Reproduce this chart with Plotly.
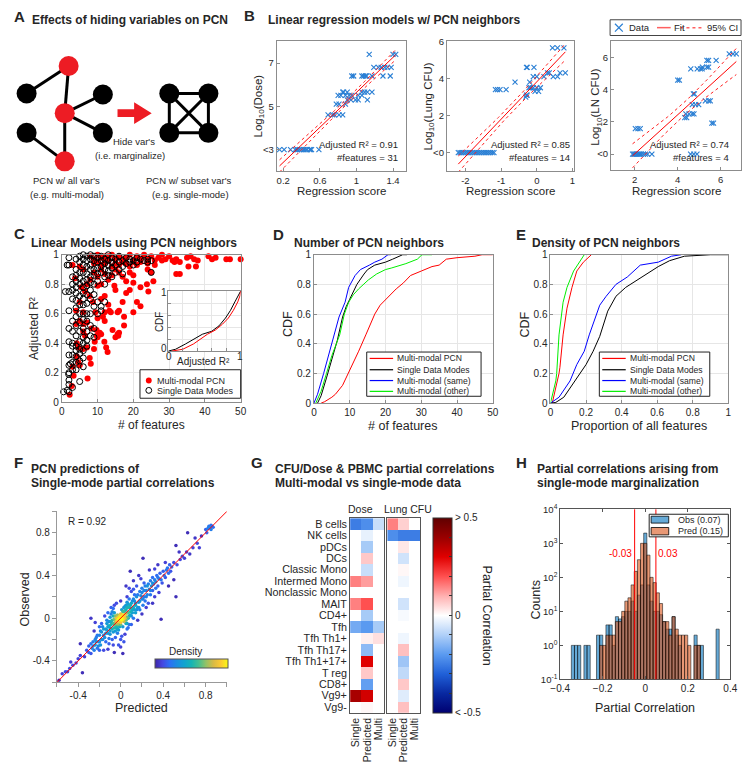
import numpy as np
import plotly.graph_objects as go

W, H = 750, 766
def X(px): return px / W
def Y(py): return 1 - py / H

FONT = "Liberation Sans, Arial, Helvetica, sans-serif"
TXT = "#262626"
AXC = "#8c8c8c"
GRID = "#e6e6e6"

# ================= DATA =================
# Panel A schematic (node positions in panel pixels)
a_node_x = [60, 17, 56, 95, 95, 17, 56, 163, 203, 163, 203]
a_node_y = [60, 88, 108, 89, 128, 128, 157, 88, 88, 128, 128]
a_node_red = [1, 0, 1, 0, 0, 0, 1, 0, 0, 0, 0]
a_edges = [(0, 1), (0, 2), (2, 3), (2, 4), (2, 6), (5, 6),
           (7, 8), (9, 10), (7, 9), (8, 10), (7, 10), (8, 9)]

# Panel B: regression score vs log10 value (grouped by y level)
b1_levels = [3, 4.6, 5.1, 5.3, 5.5, 5.65, 6.4, 6.8, 7.4]
b1_scores = [
    [0.16, 0.21, 0.28, 0.33, 0.35, 0.36, 0.38, 0.40, 0.42, 0.43, 0.45, 0.46, 0.49, 0.50, 0.51, 0.59],
    [0.69, 0.74, 0.76, 0.81, 0.85],
    [0.78, 0.81, 0.88],
    [0.90, 0.94, 0.99, 1.02, 1.12],
    [0.80, 0.83, 0.88, 0.92, 0.95, 1.02, 1.06],
    [0.85, 0.86, 0.90, 1.06, 1.09, 1.12, 1.17],
    [0.95, 0.97, 1.06, 1.08, 1.10, 1.11, 1.17, 1.29, 1.37],
    [1.19, 1.24, 1.27, 1.31, 1.34, 1.38],
    [1.14, 1.40, 1.43]]
b2_levels = [0, 3.0, 3.1, 3.3, 3.4, 3.5, 3.8, 4.1, 4.3, 4.6, 5.65]
b2_scores = [
    [-2.2, -2.15, -2.1, -2.05, -2.0, -1.95, -1.9, -1.85, -1.8, -1.75, -1.7, -1.65, -1.6,
     -1.55, -1.5, -1.45, -1.4, -1.35, -1.3, -1.25, -1.2],
    [-0.31],
    [-0.29, -0.27],
    [-0.05, 0.05],
    [-1.16, -1.10, -1.03, -0.86],
    [-0.22, -0.17, -0.10, 0.0, 0.10],
    [-0.61, -0.20],
    [-0.10, 0.0, 0.20, 0.46, 0.58],
    [0.30, 0.35, 0.65, 0.80],
    [-0.29, -0.27, -0.08],
    [0.44, 0.58, 0.76]]
b3_levels = [0, 1.58, 1.92, 2.26, 2.5, 3.07, 3.3, 3.74, 4.6, 5.3, 5.4, 5.82, 6.22]
b3_scores = [
    [1.9, 1.95, 2.0, 2.05, 2.1, 2.15, 2.2, 2.25, 2.3, 2.4, 2.5, 2.6, 2.8, 4.6, 4.75, 4.9],
    [2.03, 2.15, 2.26],
    [5.59, 5.67],
    [4.33, 4.42],
    [4.38, 4.53, 4.68, 4.76],
    [4.68, 4.83, 4.98],
    [5.29, 5.44, 5.52],
    [4.73, 4.78],
    [4.0, 4.08],
    [4.61, 4.91, 5.06, 5.14],
    [5.15, 5.36, 5.44],
    [5.36, 5.44, 5.79],
    [6.4, 6.58, 6.73]]
b_stats = [("Adjusted R² = 0.91", "#features = 31"),
           ("Adjusted R² = 0.85", "#features = 14"),
           ("Adjusted R² = 0.74", "#features = 4")]
b_ylabels = ["Log<sub>10</sub>(Dose)", "Log<sub>10</sub>(Lung CFU)", "Log<sub>10</sub>(LN CFU)"]

# Panel C: (# features, adjusted R2)
c_multi = [
    (3, 0.93), (8, 0.99), (9, 0.97), (10, 1.0), (11, 0.98), (12, 0.96), (13, 0.99), (14, 1.0), (15, 0.97),
    (16, 0.99), (17, 0.95), (18, 0.98), (19, 1.0), (20, 0.96), (21, 0.99), (22, 0.97), (23, 1.0), (24, 0.97),
    (25, 0.99), (26, 0.96), (27, 0.98), (28, 1.0), (29, 0.97), (30, 0.99), (31, 0.96), (32, 0.97), (33, 0.95),
    (35, 0.98), (36, 0.99), (37, 0.97), (38, 0.96), (41, 0.99), (42, 0.97), (43, 0.98), (46, 0.97), (47, 0.97),
    (50, 0.97), (37.5, 0.92), (31.5, 0.95), (9, 0.94), (10, 0.95), (11, 0.93), (12, 0.94), (13, 0.96),
    (14, 0.92), (15, 0.94), (16, 0.93), (17, 0.97), (18, 0.94), (19, 0.92), (20, 0.95), (12, 0.99), (13, 0.97),
    (21, 0.93), (22, 0.95), (24, 0.94), (26, 0.93), (28, 0.96),
    (24, 0.90), (25, 0.88), (32, 0.87), (33, 0.87), (35.4, 0.92), (25.6, 0.82), (23.8, 0.80), (22, 0.78),
    (20, 0.81), (24.2, 0.75), (22, 0.65), (21, 0.68), (20, 0.61), (17, 0.68), (17.4, 0.58), (15.6, 0.61),
    (15, 0.76), (14.7, 0.79), (17.4, 0.52), (15.6, 0.46), (15, 0.44), (14.2, 0.49), (12.8, 0.34), (11.9, 0.41),
    (12.4, 0.37), (13.7, 0.61), (13.3, 0.62), (12, 0.61), (12, 0.55), (11.5, 0.58), (10, 0.57), (10.6, 0.47),
    (9.7, 0.49), (9.8, 0.45), (8.3, 0.5), (7.8, 0.3), (8.1, 0.26), (9.2, 0.41), (6.5, 0.45), (6, 0.48),
    (7, 0.37), (4.2, 0.4), (4.6, 0.37), (4.2, 0.31), (4.6, 0.27), (7.2, 0.16), (3.3, 0.18), (2.8, 0.11),
    (2.2, 0.05), (3.7, 0.84), (5.5, 0.78), (6.5, 0.75), (5, 0.68), (6, 0.61), (7.8, 0.72), (8.7, 0.68),
    (9.4, 0.61), (10, 0.79), (11, 0.8), (9, 0.88), (10, 0.85), (11, 0.9), (12, 0.87), (13, 0.83), (14, 0.86),
    (15, 0.9), (16, 0.88), (17, 0.85), (18, 0.82), (19, 0.88), (20, 0.86), (8, 0.83), (7, 0.8), (6, 0.9),
    (5, 0.92), (4, 0.62), (4, 0.53), (5, 0.55), (6, 0.53), (7, 0.54), (6, 0.36), (5, 0.25), (3, 0.24),
    (11, 0.7), (12, 0.72), (13, 0.66), (9, 0.36), (10, 0.44), (11, 0.46), (16, 0.62), (18, 0.74), (19, 0.76),
    (15.8, 0.45), (16, 0.47)]
c_single = [
    (1, 0.75), (0.5, 0.07), (1.5, 0.08), (1.5, 0.93),
    (2, 0.75), (2, 0.62), (2, 0.5), (2, 0.41), (2, 0.32), (2, 0.25), (2, 0.2), (2, 0.15), (2, 0.12), (2, 0.07),
    (2, 0.98), (2, 0.93), (2.4, 0.26), (1.9, 0.19),
    (3, 0.8), (3, 0.76), (3, 0.7), (3, 0.55), (3, 0.48), (3, 0.4), (3, 0.38), (3, 0.32), (3, 0.27), (3, 0.22),
    (3, 0.1), (3, 0.85),
    (4, 0.97), (4, 0.9), (4, 0.86), (4, 0.82), (4, 0.78), (4, 0.74), (4, 0.69), (4, 0.64), (4, 0.58), (4, 0.52),
    (4, 0.45), (4, 0.38), (4, 0.35), (4, 0.31), (4, 0.27), (4, 0.22),
    (5, 0.99), (5, 0.95), (5, 0.88), (5, 0.84), (5, 0.8), (5, 0.72), (5, 0.66), (5, 0.6), (5, 0.54), (5, 0.48),
    (5, 0.41), (5, 0.36), (5, 0.33), (5, 0.28), (5, 0.14),
    (6, 1.0), (6, 0.97), (6, 0.93), (6, 0.88), (6, 0.82), (6, 0.78), (6, 0.74), (6, 0.7), (6, 0.66), (6, 0.6),
    (6, 0.56), (6, 0.5), (6, 0.44), (6, 0.4), (6, 0.35), (6, 0.3), (6, 0.24),
    (7, 0.99), (7, 0.96), (7, 0.92), (7, 0.87), (7, 0.83), (7, 0.79), (7, 0.73), (7, 0.67), (7, 0.6), (7, 0.55),
    (7, 0.48), (7, 0.42), (7, 0.38),
    (8, 1.0), (8, 0.97), (8, 0.93), (8, 0.9), (8, 0.85), (8, 0.81), (8, 0.76), (8, 0.7), (8, 0.6), (8, 0.52), (8, 0.45),
    (9, 0.99), (9, 0.96), (9, 0.9), (9, 0.86), (9, 0.8), (9, 0.73), (9, 0.65), (9, 0.5), (9, 0.44),
    (10, 0.98), (10, 0.95), (10, 0.91), (10, 0.87), (10, 0.82), (10, 0.68), (10, 0.6),
    (11, 0.99), (11, 0.96), (11, 0.92), (11, 0.88), (11, 0.65), (11, 0.62),
    (12, 0.97), (12, 0.94), (12, 0.9), (12, 0.85), (12, 0.8), (12, 0.68),
    (13, 1.0), (13, 0.96), (13, 0.93), (13, 0.89), (13, 0.86),
    (14, 0.98), (14, 0.95), (14, 0.91), (14, 0.85),
    (15, 0.97), (15, 0.93), (15, 0.88), (16, 0.99), (16, 0.95), (16, 0.9), (17, 0.96), (17, 0.92), (17, 0.87),
    (18, 0.98), (18, 0.94), (19, 0.97), (19, 0.95), (20, 0.96), (20, 0.93), (21, 0.98), (21, 0.95),
    (22, 0.97), (23, 0.96), (24, 0.97), (24, 0.95), (25, 0.96), (25, 0.88)]
c_inset_r2_multi = [0.05, 0.2, 0.35, 0.54, 0.65, 0.75, 0.83, 0.9, 0.96, 0.99, 1.0]
c_inset_cdf_multi = [0.0, 0.03, 0.12, 0.28, 0.35, 0.45, 0.55, 0.68, 0.82, 0.92, 1.0]
c_inset_r2_single = [0.0, 0.1, 0.24, 0.35, 0.47, 0.6, 0.7, 0.79, 0.86, 0.92, 0.97, 1.0]
c_inset_cdf_single = [0.0, 0.03, 0.12, 0.2, 0.28, 0.33, 0.42, 0.55, 0.68, 0.82, 0.92, 1.0]

# Panel D: CDF of number of PCN neighbors
d_names = ["Multi-modal PCN", "Single Data Modes", "Multi-modal (same)", "Multi-modal (other)"]
d_colors = ["#ff0000", "#000000", "#0000ff", "#00ee00"]
d_x = [
    [2, 3, 5, 6, 8, 10, 12.5, 14.5, 17, 18.5, 21, 23, 25, 27, 30, 33, 35, 37, 40, 45, 47, 50],
    [1, 2, 3.5, 5, 6.5, 8, 9, 10, 12, 14, 15, 17, 20, 22, 23, 24.8, 26],
    [0, 1, 2.7, 4, 5.6, 7, 8.7, 9.7, 11.5, 13, 15.5, 17, 19, 20.7, 21.5],
    [0.5, 2, 3.5, 5, 7.2, 8.5, 9.7, 11, 12.5, 15.2, 17.5, 20, 21.6, 25.7, 28.9, 30.2, 33]]
d_cdf = [
    [0, 0.01, 0.04, 0.06, 0.12, 0.22, 0.35, 0.46, 0.6, 0.66, 0.72, 0.77, 0.81, 0.86, 0.89, 0.92, 0.93, 0.97, 0.98, 0.99, 1.0, 1.0],
    [0, 0.05, 0.17, 0.3, 0.42, 0.58, 0.65, 0.7, 0.8, 0.87, 0.9, 0.93, 0.95, 0.97, 0.98, 1.0, 1.0],
    [0, 0.06, 0.2, 0.32, 0.46, 0.58, 0.68, 0.78, 0.86, 0.9, 0.93, 0.95, 0.97, 1.0, 1.0],
    [0, 0.08, 0.2, 0.32, 0.46, 0.6, 0.68, 0.73, 0.77, 0.83, 0.87, 0.9, 0.91, 0.94, 0.97, 1.0, 1.0]]

# Panel E: CDF of density of PCN neighbors
e_x = [
    [0.01, 0.03, 0.048, 0.053, 0.066, 0.071, 0.093, 0.121, 0.148, 0.185, 0.23],
    [0.0, 0.03, 0.075, 0.14, 0.2, 0.24, 0.277, 0.322, 0.368, 0.423, 0.515, 0.606, 0.67, 0.753, 0.9, 1.0],
    [0.0, 0.048, 0.11, 0.148, 0.19, 0.218, 0.277, 0.313, 0.368, 0.432, 0.505, 0.606, 0.68, 0.735],
    [0.0, 0.03, 0.035, 0.042, 0.048, 0.071, 0.093, 0.13, 0.176, 0.19]]
e_cdf = [
    [0.0, 0.1, 0.2, 0.24, 0.4, 0.46, 0.64, 0.78, 0.89, 0.95, 1.0],
    [0.0, 0.005, 0.04, 0.15, 0.26, 0.35, 0.45, 0.62, 0.72, 0.78, 0.85, 0.92, 0.96, 0.99, 1.0, 1.0],
    [0.0, 0.04, 0.15, 0.26, 0.35, 0.46, 0.66, 0.72, 0.8, 0.85, 0.93, 0.95, 0.99, 1.0],
    [0.0, 0.15, 0.2, 0.4, 0.46, 0.68, 0.78, 0.89, 0.97, 1.0]]

# Panel F: (predicted, observed) partial correlations
f_points = [
    (0, 0), (0.01, 0.01), (-0.01, 0), (0.02, -0.01), (-0.02, 0.01), (0, 0.02), (0.01, -0.02), (-0.01, -0.01),
    (0.03, 0.02), (-0.03, -0.02), (0.02, 0.03), (-0.02, -0.03), (0.04, 0), (-0.04, 0), (0, 0.04), (0, -0.04),
    (0.03, -0.03), (-0.03, 0.03), (0.05, 0.04), (-0.05, -0.04), (0.05, -0.02), (-0.05, 0.02), (0.06, 0.01),
    (-0.06, -0.01), (0.02, 0.06), (-0.02, -0.06), (0.07, 0.05), (-0.07, -0.05), (0.04, 0.07), (-0.04, -0.07),
    (0.08, 0.02), (-0.08, -0.02), (0.01, 0.08), (-0.01, -0.08), (0.06, -0.05), (-0.06, 0.05), (0.09, 0.06),
    (-0.09, -0.06), (0.03, 0.1), (-0.03, -0.1), (0.1, 0.09), (-0.1, -0.09), (0.1, 0.02), (-0.1, 0.01),
    (0.08, -0.06), (-0.08, 0.06), (0.12, 0.1), (-0.12, -0.08), (0.11, 0.05), (-0.11, -0.03), (0.05, 0.12),
    (-0.05, -0.12), (0.13, 0.08), (-0.13, -0.11), (0.07, -0.09), (-0.07, 0.09), (0.14, 0.14), (-0.14, -0.14),
    (0.01, 0.03), (-0.01, 0.02), (0.02, 0), (-0.02, -0.01), (0.03, 0.01), (-0.03, 0), (0.01, -0.01),
    (0.04, 0.03), (-0.04, -0.03), (0.0, 0.01), (0.0, -0.01), (0.01, 0.0),
    (0.15, 0.2), (0.16, 0.1), (0.17, 0.15), (0.18, 0.25), (0.18, 0.08), (0.2, 0.18), (0.2, 0.28), (0.21, 0.12),
    (0.22, 0.2), (0.22, 0.33), (0.23, 0.16), (0.24, 0.26), (0.25, 0.22), (0.25, 0.3), (0.26, 0.14),
    (0.27, 0.27), (0.28, 0.35), (0.28, 0.22), (0.29, 0.3), (0.3, 0.26), (0.3, 0.38), (0.31, 0.32), (0.32, 0.2),
    (0.33, 0.34), (0.34, 0.4), (0.35, 0.3), (0.36, 0.37), (0.37, 0.42), (0.38, 0.36), (0.38, -0.01),
    (0.39, 0.33), (0.4, 0.44), (0.41, 0.4), (0.42, 0.38), (0.43, 0.45), (0.44, 0.47), (0.45, 0.42), (0.46, 0.5),
    (0.47, 0.44), (0.48, 0.48), (0.5, 0.52), (0.5, 0.36), (0.52, 0.2), (0.52, 0.68), (0.53, 0.5), (0.55, 0.62),
    (0.56, 0.55), (0.58, 0.58), (0.6, 0.56), (0.62, 0.62), (0.63, 0.8), (0.65, 0.6), (0.68, 0.66), (0.7, 0.75),
    (0.72, 0.7), (0.74, 0.66), (0.76, 0.77), (0.8, 0.83), (0.81, 0.8), (0.82, 0.84), (0.83, 0.86), (0.84, 0.85),
    (0.85, 0.87), (0.86, 0.86), (0.87, 0.85), (0.85, 0.83),
    (0.21, 0.56), (0.09, 0.44), (0.12, 0.35), (0.1, 0.25), (0.13, 0.22), (0.08, 0.18), (0.06, 0.15),
    (0.15, 0.3), (0.05, 0.3), (0.17, 0.4), (0.14, 0.05), (0.2, 0.04), (0.24, 0.1), (0.09, 0.12), (0.11, 0.16),
    (0.16, -0.02), (0.06, 0.2), (0.19, 0.37), (0.27, 0.45), (0.32, 0.46), (0.35, 0.5), (0.42, 0.52),
    (0.3, 0.14), (0.36, 0.24), (0.45, 0.3),
    (-0.15, -0.18), (-0.16, -0.1), (-0.17, -0.2), (-0.18, -0.13), (-0.19, -0.25), (-0.2, -0.16),
    (-0.21, -0.22), (-0.22, -0.28), (-0.23, -0.18), (-0.24, -0.25), (-0.25, -0.3), (-0.26, -0.22),
    (-0.27, -0.28), (-0.28, -0.33), (-0.3, -0.26), (-0.3, -0.32), (-0.32, -0.3), (-0.34, -0.36),
    (-0.36, -0.51), (-0.38, -0.24), (-0.38, -0.35), (-0.4, -0.38), (-0.42, -0.42), (-0.45, -0.44),
    (-0.47, -0.41), (-0.48, -0.47), (-0.5, -0.5), (-0.52, -0.5), (-0.55, -0.52), (-0.58, -0.58),
    (-0.28, 0), (-0.24, -0.04), (-0.12, -0.29), (-0.06, -0.32), (0, -0.27), (0.02, -0.33), (-0.08, -0.2),
    (-0.1, -0.15), (-0.05, -0.18), (-0.13, -0.05), (-0.15, 0.02), (-0.18, -0.05), (-0.2, -0.08),
    (-0.12, 0.05), (-0.09, 0.1), (0.0, -0.2), (0.04, -0.15), (0.03, -0.22), (-0.02, -0.25), (-0.16, -0.3),
    (-0.2, -0.3), (-0.25, -0.12), (0.06, -0.1), (0.1, -0.06), (-0.14, -0.22), (-0.07, -0.25), (-0.03, -0.14),
    (0.01, -0.17), (-0.11, -0.19), (0.08, 0.28), (0.12, 0.27), (-0.04, 0.14), (0.0, 0.16), (-0.06, 0.12),
    (0.1, 0.14), (0.12, 0.18), (0.14, 0.12), (0.16, 0.22), (0.18, 0.16), (0.2, 0.24), (0.22, 0.26),
    (0.24, 0.2), (0.26, 0.32), (0.15, 0.08), (0.13, 0.16), (0.17, 0.1), (0.19, 0.21), (0.21, 0.18),
    (0.23, 0.3), (0.08, 0.1), (0.07, 0.13), (0.11, 0.08), (0.09, 0.03), (0.12, 0.0), (0.05, 0.08),
    (0.06, 0.1), (0.04, 0.11), (0.03, 0.06),
    (-0.1, -0.12), (-0.12, -0.14), (-0.14, -0.1), (-0.16, -0.16), (-0.18, -0.2), (-0.2, -0.22),
    (-0.22, -0.16), (-0.08, -0.1), (-0.06, -0.09), (-0.11, -0.07), (-0.09, -0.03), (-0.13, -0.02),
    (-0.07, -0.13), (-0.04, -0.09), (-0.05, -0.06), (-0.03, -0.05), (-0.17, -0.08), (-0.19, -0.12),
    (-0.21, -0.26), (-0.23, -0.22), (-0.26, -0.26), (-0.28, -0.24), (-0.24, -0.2), (-0.11, -0.24),
    (-0.02, -0.11), (0.02, -0.08), (0.0, -0.06), (0.05, -0.05), (0.07, 0.0), (-0.07, 0.02), (-0.09, 0.04),
    (0.3, 0.33), (0.33, 0.28), (0.35, 0.38), (0.28, 0.26), (0.32, 0.36)]

# Panel G: partial correlations heatmap
g_rows = ["B cells", "NK cells", "pDCs", "DCs", "Classic Mono", "Intermed Mono", "Nonclassic Mono",
          "MAIT", "CD4+", "Tfh", "Tfh Th1+", "Tfh Th17+", "Tfh Th1+17+", "T reg", "CD8+", "Vg9+", "Vg9-"]
g_cols = ["Single", "Predicted", "Multi"]
g_dose = [[-0.25, -0.22, -0.07], [0, -0.03, 0], [0, -0.11, 0], [0, 0.07, 0], [0, -0.07, 0],
          [0.15, 0.12, 0], [0, 0, 0], [0.15, 0.2, 0], [0, -0.11, 0], [-0.17, -0.2, -0.11],
          [0, 0.02, 0.04], [0, -0.14, 0], [0, 0.3, 0], [0, 0.07, 0], [0, -0.19, 0],
          [0.38, 0.32, 0], [0, 0.01, 0]]
g_lung = [[0.15, 0.06, 0], [-0.22, -0.25, -0.25], [0, 0.03, 0], [0, -0.06, 0], [0, 0.01, 0],
          [0, -0.02, 0], [0, 0, 0], [0, -0.06, 0], [0, -0.01, 0], [0, 0, 0],
          [0, -0.02, 0], [0, 0.08, 0], [0, -0.12, 0], [0, -0.08, 0], [0, 0.07, 0],
          [0, -0.04, 0], [0, 0.08, 0]]

# Panel H: histogram counts per bin (bin index k, width h_bin_width)
h_bin_width = 0.0148
h_k = list(range(-23, 24))
h_obs = [1, 1, 1, 0, 1, 1, 0, 0, 2, 2, 0, 4, 4, 1, 7, 6, 7, 10, 10, 20, 10, 30, 60,
         2000,
         60, 20, 10, 10, 8, 5, 3, 3, 7, 2, 1, 0, 0, 0, 0, 2, 1, 1, 0, 0, 0, 0, 3]
h_pred = [0, 0, 0, 0, 0, 0, 0, 0, 0, 1, 1, 2, 2, 2, 5, 5, 10, 20, 25, 60, 150, 330, 1000,
          1000,
          450, 100, 70, 35, 17, 5, 5, 2, 7, 3, 2, 2, 2, 1, 0, 1, 1, 0, 0, 0, 0, 0, 0]
h_lines = [-0.05, 0.05]
h_line_labels = ["-0.03", "0.03"]

# ================= FIGURE =================
fig = go.Figure()
lay = {}
annotations = []
shapes = []

def ann(text, px, py, size=10, bold=False, xa='center', ya='middle', angle=0, color=TXT):
    annotations.append(dict(text=f"<b>{text}</b>" if bold else text, x=X(px), y=Y(py), xref='paper',
                            yref='paper', showarrow=False, xanchor=xa, yanchor=ya, textangle=angle,
                            borderpad=0, font=dict(size=size, color=color, family=FONT)))

def axis(domain, rng, **kw):
    d = dict(domain=domain, range=rng, showgrid=False, zeroline=False, showline=True, linecolor=AXC,
             linewidth=1, mirror=True, ticks='inside', ticklen=3, tickcolor=AXC,
             tickfont=dict(size=10, color=TXT, family=FONT), fixedrange=True)
    d.update(kw)
    return d

def set_axes(n, xd, yd):
    sx = '' if n == 1 else str(n)
    xd['anchor'] = 'y' + sx
    yd['anchor'] = 'x' + sx
    lay['xaxis' + sx] = xd
    lay['yaxis' + sx] = yd

# ---- Panel A ----
set_axes(1, dict(domain=[0, X(250)], range=[0, 250], visible=False, fixedrange=True),
         dict(domain=[Y(200), 1], range=[200, 0], visible=False, fixedrange=True))
ex, ey = [], []
for i, j in a_edges:
    ex += [a_node_x[i], a_node_x[j], None]
    ey += [a_node_y[i], a_node_y[j], None]
fig.add_trace(go.Scatter(x=ex, y=ey, mode='lines', line=dict(color='black', width=3), xaxis='x', yaxis='y',
                         showlegend=False, hoverinfo='skip'))
fig.add_trace(go.Scatter(x=a_node_x, y=a_node_y, mode='markers', xaxis='x', yaxis='y', showlegend=False,
                         marker=dict(size=20, color=['#ed1c24' if r else 'black' for r in a_node_red],
                                     line=dict(width=0)), hoverinfo='skip'))
shapes.append(dict(type='path', xref='x', yref='y',
                   path='M110,104 L127,104 L127,97 L145,108 L127,119 L127,112 L110,112 Z',
                   fillcolor='#ed1c24', line=dict(width=0)))
ann("A", 3, 10, 15, True, 'left')
ann("Effects of hiding variables on PCN", 21, 13, 12, True, 'left')
ann("Hide var's", 127, 137, 9.5)
ann("(i.e. marginalize)", 123, 151, 9.5)
ann("PCN w/ all var's", 58, 177, 9.5)
ann("(e.g. multi-modal)", 58, 191, 9.5)
ann("PCN w/ subset var's", 183, 177, 9.5)
ann("(e.g. single-mode)", 185, 191, 9.5)

# ---- Panel B ----
ann("B", 238, 9, 15, True, 'left')
ann("Linear regression models w/ PCN neighbors", 263, 13, 12, True, 'left')
b_sets = [(b1_levels, b1_scores), (b2_levels, b2_scores), (b3_levels, b3_scores)]
b_dom = [((273, 405), (35, 167)), ((447, 577), (35, 167)), ((615, 748), (35, 166))]
b_xr = [[0.13, 1.54], [-2.52, 1.04], [0.9, 6.95]]
b_yr = [[2, 8], [-1, 6], [-1, 7]]
b_xt = [[0.2, 0.6, 1.0, 1.4], [-2, -1, 0, 1], [2, 4, 6]]
b_xtt = [["0.2", "0.6", "1", "1.4"], ["-2", "-1", "0", "1"], ["2", "4", "6"]]
b_yt = [[3, 5, 7], [0, 2, 4, 6], [0, 2, 4, 6]]
b_ytt = [["<3", "5", "7"], ["<0", "2", "4", "6"], ["<0", "2", "4", "6"]]
b_ytitle_x = [255, 429, 600]
b_stat_right = [398, 574, 737]
for i in range(3):
    n = 2 + i
    (x0, x1), (y0, y1) = b_dom[i]
    set_axes(n, axis([X(x0), X(x1)], b_xr[i], tickvals=b_xt[i], ticktext=b_xtt[i],
                     tickfont=dict(size=9.5, color=TXT, family=FONT)),
             axis([Y(y1), Y(y0)], b_yr[i], tickvals=b_yt[i], ticktext=b_ytt[i],
                  tickfont=dict(size=9.5, color=TXT, family=FONT)))
    levels, scores = b_sets[i]
    s = np.array([v for row in scores for v in row])
    d = np.array([lv for lv, row in zip(levels, scores) for _ in row])
    xa, ya = 'x%d' % n, 'y%d' % n
    # OLS fit and 95% confidence band of the fitted line
    slope, icpt = np.polyfit(s, d, 1)
    xs = np.linspace(s.min(), s.max(), 60)
    yfit = icpt + slope * xs
    resid = d - (icpt + slope * s)
    nn = len(s)
    se = np.sqrt(np.sum(resid ** 2) / (nn - 2))
    half = 2.0 * se * np.sqrt(1 / nn + (xs - s.mean()) ** 2 / np.sum((s - s.mean()) ** 2))
    fig.add_trace(go.Scatter(x=s, y=d, mode='markers', xaxis=xa, yaxis=ya, showlegend=False,
                             marker=dict(symbol='x-thin', size=5, line=dict(width=1.1, color='#2a7fd4'))))
    fig.add_trace(go.Scatter(x=xs, y=yfit, mode='lines', xaxis=xa, yaxis=ya, showlegend=False,
                             line=dict(color='#ff0000', width=1)))
    for sign in (1, -1):
        fig.add_trace(go.Scatter(x=xs, y=yfit + sign * half, mode='lines', xaxis=xa, yaxis=ya,
                                 showlegend=False, line=dict(color='#ff2020', width=1, dash='dot')))
    ann(b_stats[i][0], b_stat_right[i], 140, 9.5, False, 'right')
    ann(b_stats[i][1], b_stat_right[i], 153, 9.5, False, 'right')
    ann("Regression score", (x0 + x1) / 2, 187, 11.5)
    ann(b_ylabels[i], b_ytitle_x[i], 101, 11.5, angle=-90)
# B legend (manual)
shapes.append(dict(type='rect', xref='paper', yref='paper', x0=X(614), x1=X(748), y0=Y(29), y1=Y(13),
                   line=dict(color='#444', width=1), fillcolor='white'))
shapes.append(dict(type='line', xref='paper', yref='paper', x0=X(619), x1=X(627), y0=Y(17), y1=Y(25),
                   line=dict(color='#2a7fd4', width=1.2)))
shapes.append(dict(type='line', xref='paper', yref='paper', x0=X(619), x1=X(627), y0=Y(25), y1=Y(17),
                   line=dict(color='#2a7fd4', width=1.2)))
shapes.append(dict(type='line', xref='paper', yref='paper', x0=X(662), x1=X(676), y0=Y(21), y1=Y(21),
                   line=dict(color='#ff6060', width=1.5)))
shapes.append(dict(type='line', xref='paper', yref='paper', x0=X(686), x1=X(710), y0=Y(21), y1=Y(21),
                   line=dict(color='#ff6060', width=1.5, dash='dot')))
ann("Data", 632, 21, 9.5, False, 'left')
ann("Fit", 678, 21, 9.5, False, 'left')
ann("95% CI", 712, 21, 9.5, False, 'left')

# ---- Panel C ----
ann("C", 3, 230, 15, True, 'left')
ann("Linear Models using PCN neighbors", 20, 240, 12, True, 'left')
set_axes(5, axis([X(53), X(236)], [0, 50], dtick=10, showgrid=True, gridcolor=GRID),
         axis([Y(402), Y(252)], [0, 1], dtick=0.2, showgrid=True, gridcolor=GRID))
fig.add_trace(go.Scatter(x=[p[0] for p in c_multi], y=[p[1] for p in c_multi], mode='markers', xaxis='x5',
                         yaxis='y5', showlegend=False, cliponaxis=False,
                         marker=dict(size=6, color='#ff0000', line=dict(width=0))))
fig.add_trace(go.Scatter(x=[p[0] for p in c_single], y=[p[1] for p in c_single], mode='markers', xaxis='x5',
                         yaxis='y5', showlegend=False, cliponaxis=False,
                         marker=dict(size=6, symbol='circle-open', color='black', line=dict(width=1))))
ann("# of features", 145, 425, 12)
ann("Adjusted R²", 25, 327, 12, angle=-90)
# inset
set_axes(6, axis([X(162), X(236)], [0, 1], tickvals=[0, 0.2, 0.4, 0.6, 0.8, 1],
                 showgrid=True, gridcolor=GRID, showticklabels=False),
         axis([Y(350), Y(289)], [0, 1], tickvals=[0, 0.2, 0.4, 0.6, 0.8, 1],
              showgrid=True, gridcolor=GRID, showticklabels=False))
fig.add_trace(go.Scatter(x=c_inset_r2_single, y=c_inset_cdf_single, mode='lines', xaxis='x6', yaxis='y6',
                         showlegend=False, line=dict(color='black', width=1)))
fig.add_trace(go.Scatter(x=c_inset_r2_multi, y=c_inset_cdf_multi, mode='lines', xaxis='x6', yaxis='y6',
                         showlegend=False, line=dict(color='#ff0000', width=1)))
ann("0", 158, 347, 10)
ann("1", 158, 290, 10)
ann("0", 163, 356, 10)
ann("1", 235, 356, 10)
ann("CDF", 153, 320, 10, angle=-90)
ann("Adjusted R²", 198, 361, 10)
# C legend
shapes.append(dict(type='rect', xref='paper', yref='paper', x0=X(133), x1=X(236), y0=Y(398), y1=Y(369),
                   line=dict(color='#222', width=1), fillcolor='white'))
shapes.append(dict(type='circle', xref='paper', yref='paper', x0=X(139), x1=X(145), y0=Y(383), y1=Y(377),
                   fillcolor='#ff0000', line=dict(width=0)))
shapes.append(dict(type='circle', xref='paper', yref='paper', x0=X(139), x1=X(145), y0=Y(393), y1=Y(387),
                   line=dict(color='black', width=1)))
ann("Multi-modal PCN", 149, 380, 9, False, 'left')
ann("Single Data Modes", 149, 390.5, 9, False, 'left')

# ---- Panels D & E ----
def cdf_panel(n, letter, lx, title, tx, dom_x, xr, dtick, xs_list, ys_list, xtitle, cdf_x, leg):
    ann(letter, lx, 231, 15, True, 'left')
    ann(title, tx, 240, 12, True, 'left')
    set_axes(n, axis([X(dom_x[0]), X(dom_x[1])], xr, dtick=dtick, showgrid=True, gridcolor=GRID,
                     tickfont=dict(size=10, color=TXT, family=FONT)),
             axis([Y(403), Y(252)], [0, 1], dtick=0.2, showgrid=True, gridcolor=GRID,
                  tickfont=dict(size=10, color=TXT, family=FONT)))
    for xv, yv, col in zip(xs_list, ys_list, d_colors):
        fig.add_trace(go.Scatter(x=xv, y=yv, mode='lines', xaxis='x%d' % n, yaxis='y%d' % n, showlegend=False,
                                 line=dict(color=col, width=1)))
    ann(xtitle, (dom_x[0] + dom_x[1]) / 2, 426, 12.5)
    ann("CDF", cdf_x, 323, 12.5, angle=-90)
    lx0, lx1, ltx, bx1 = leg
    shapes.append(dict(type='rect', xref='paper', yref='paper', x0=X(lx0 - 3), x1=X(bx1), y0=Y(396), y1=Y(351),
                       line=dict(color='#222', width=1), fillcolor='white'))
    for k, (nm, col) in enumerate(zip(d_names, d_colors)):
        yy = [357.5, 369, 380, 391][k]
        shapes.append(dict(type='line', xref='paper', yref='paper', x0=X(lx0), x1=X(lx1), y0=Y(yy), y1=Y(yy),
                           line=dict(color=col, width=1.2)))
        ann(nm, ltx, yy, 8.6, False, 'left')

cdf_panel(7, "D", 268, "Number of PCN neighbors", 290, (311, 494), [0, 50], 10, d_x, d_cdf,
          "# of features", 284, (368, 392, 395, 482))
cdf_panel(8, "E", 517, "Density of PCN neighbors", 533, (553, 735), [0, 1], 0.2, e_x, e_cdf,
          "Proportion of all features", 526, (606, 630, 633, 716))

# ---- Panel F ----
ann("F", 3, 463, 15, True, 'left')
ann("PCN predictions of", 20, 470, 12, True, 'left')
ann("Single-mode partial correlations", 20, 484, 12, True, 'left')
fp = np.array(f_points, dtype=float)
dist = np.sqrt(((fp[:, None, :] - fp[None, :, :]) ** 2).sum(-1))
dens = (dist < 0.06).sum(1).astype(float)
order = np.argsort(dens)
parula = [[0.0, '#3e26a8'], [0.1, '#4646e0'], [0.2, '#2d6ff4'], [0.3, '#1b8de0'], [0.4, '#11a3d0'],
          [0.5, '#16b4b4'], [0.6, '#45bf90'], [0.7, '#95c265'], [0.8, '#d8ba45'], [0.9, '#fcc934'],
          [1.0, '#f9fb15']]
ftick = [-0.6, -0.4, -0.2, 0, 0.2, 0.4, 0.6, 0.8, 1.0]
fticktext = [" ", "-0.4", " ", "0", " ", "0.4", " ", "0.8", " "]
set_axes(9, axis([X(48), X(222)], [-0.6, 1.0], tickvals=ftick, ticktext=fticktext, mirror=False, ticks='outside',
                 ticklen=4, linecolor='#999', tickcolor='#999', tickfont=dict(size=10, color=TXT, family=FONT)),
         axis([Y(687), Y(513)], [-0.6, 1.0], tickvals=ftick, ticktext=fticktext, mirror=False, ticks='outside',
              ticklen=4, linecolor='#999', tickcolor='#999', tickfont=dict(size=10, color=TXT, family=FONT)))
fig.add_trace(go.Scatter(x=fp[order, 0], y=fp[order, 1], mode='markers', xaxis='x9', yaxis='y9', showlegend=False,
                         marker=dict(size=3.5, color=dens[order], coloraxis='coloraxis', line=dict(width=0))))
fig.add_trace(go.Scatter(x=lay['xaxis9']['range'], y=lay['yaxis9']['range'], mode='lines', xaxis='x9', yaxis='y9',
                         showlegend=False, line=dict(color='#ff0000', width=1)))
ann("R = 0.92", 58, 523, 10, False, 'left')
ann("Predicted", 135, 713, 12.5)
ann("Observed", 15, 603, 12.5, angle=-90)
ann("Density", 180, 656, 10)

# ---- Panel G ----
ann("G", 246, 463, 15, True, 'left')
ann("CFU/Dose & PBMC partial correlations", 270, 470, 12, True, 'left')
ann("Multi-modal vs single-mode data", 270, 484, 12, True, 'left')
gx = [(348, 383), (386, 420)]
for gi, (z, lbl, lc) in enumerate([(g_dose, "Dose", 359), (g_lung, "Lung CFU", 407)]):
    n = 10 + gi
    set_axes(n, axis([X(gx[gi][0]), X(gx[gi][1])], [-0.5, 2.5], ticks='', linecolor='#555', tickangle=-90,
                     type='category', tickmode='array', tickvals=g_cols, ticktext=g_cols,
                     tickfont=dict(size=10.5, color=TXT, family=FONT)),
             axis([Y(718), Y(520)], [16.5, -0.5], ticks='', linecolor='#555', showticklabels=(gi == 0),
                  type='category', tickmode='array', tickvals=g_rows, ticktext=g_rows,
                  tickfont=dict(size=10.8, color=TXT, family=FONT)))
    fig.add_trace(go.Heatmap(z=z, x=g_cols, y=g_rows, coloraxis='coloraxis2', xaxis='x%d' % n, yaxis='y%d' % n,
                             xgap=0, ygap=0, hoverinfo='skip'))
    ann(lbl, lc, 511, 10.5)
g_scale = [[0.0, '#000070'], [0.1, '#0828a0'], [0.2, '#2060d8'], [0.3, '#5a9af0'], [0.4, '#b0d0f8'],
           [0.5, '#ffffff'], [0.6, '#ffb0b0'], [0.7, '#ff5050'], [0.8, '#e00000'], [0.9, '#9a0000'],
           [1.0, '#600000']]
ann("Partial Correlation", 488, 619, 12.5, angle=90)

# ---- Panel H ----
ann("H", 517, 463, 15, True, 'left')
ann("Partial correlations arising from", 538, 470, 12, True, 'left')
ann("single-mode marginalization", 538, 484, 12, True, 'left')
hx = [k * h_bin_width for k in h_k]
set_axes(12, axis([X(563), X(737)], [-0.4, 0.4], dtick=0.2, ticks='inside', mirror='ticks', linecolor='#555',
                  tickcolor='#555', tickfont=dict(size=10, color=TXT, family=FONT)),
         axis([Y(684), Y(511)], [-1, 4], type='log', tickvals=[0.1, 1, 10, 100, 1000, 10000],
              ticktext=["10<sup>-1</sup>", "10<sup>0</sup>", "10<sup>1</sup>", "10<sup>2</sup>",
                        "10<sup>3</sup>", "10<sup>4</sup>"], ticks='inside', mirror='ticks', linecolor='#555',
              tickcolor='#555', tickfont=dict(size=9.5, color=TXT, family=FONT)))
fig.add_trace(go.Bar(x=hx, y=[v if v > 0 else None for v in h_obs], width=h_bin_width, xaxis='x12', yaxis='y12',
                     showlegend=False, marker=dict(color='rgba(0,114,189,0.6)',
                                                   line=dict(color='rgba(0,0,0,0.85)', width=0.6))))
fig.add_trace(go.Bar(x=hx, y=[v if v > 0 else None for v in h_pred], width=h_bin_width, xaxis='x12', yaxis='y12',
                     showlegend=False, marker=dict(color='rgba(217,83,25,0.6)',
                                                   line=dict(color='rgba(0,0,0,0.85)', width=0.6))))
for xv in h_lines:
    shapes.append(dict(type='line', xref='x12', yref='y12 domain', x0=xv, x1=xv, y0=0, y1=1,
                       line=dict(color='#ff0000', width=1)))
ann(h_line_labels[0], 625, 556, 10, color='#ff0000')
ann(h_line_labels[1], 673, 556, 10, color='#ff0000')
ann("Partial Correlation", 650, 713, 12.5)
ann("Counts", 538, 603, 12.5, angle=-90)
shapes.append(dict(type='rect', xref='paper', yref='paper', x0=X(654), x1=X(735), y0=Y(539), y1=Y(516),
                   line=dict(color='#222', width=1), fillcolor='white'))
shapes.append(dict(type='rect', xref='paper', yref='paper', x0=X(656), x1=X(674), y0=Y(525), y1=Y(518),
                   line=dict(color='black', width=0.8), fillcolor='rgba(0,114,189,0.6)'))
shapes.append(dict(type='rect', xref='paper', yref='paper', x0=X(656), x1=X(674), y0=Y(537), y1=Y(529.5),
                   line=dict(color='black', width=0.8), fillcolor='rgba(217,83,25,0.6)'))
ann("Obs (0.07)", 682, 522, 9, False, 'left')
ann("Pred (0.15)", 682, 533, 9, False, 'left')

# ---- layout ----
lay.update(dict(
    width=W, height=H, margin=dict(l=0, r=0, t=0, b=0, pad=0),
    paper_bgcolor='white', plot_bgcolor='white', showlegend=False,
    font=dict(family=FONT, color=TXT, size=10),
    barmode='overlay', bargap=0, hovermode=False,
    annotations=annotations, shapes=shapes,
    coloraxis=dict(colorscale=parula, cmin=0, cmax=float(dens.max()),
                   colorbar=dict(orientation='h', x=X(148), xanchor='left', y=Y(673), yanchor='bottom',
                                 len=75 / W, lenmode='fraction', thickness=9, xpad=0, ypad=0,
                                 showticklabels=False, ticks='', outlinewidth=1, outlinecolor='#555')),
    coloraxis2=dict(colorscale=g_scale, cmin=-0.5, cmax=0.5,
                    colorbar=dict(x=X(433), xanchor='left', y=Y(718), yanchor='bottom', len=198 / H,
                                  lenmode='fraction', thickness=19, xpad=0, ypad=0,
                                  tickvals=[-0.5, -0.4, -0.3, -0.2, -0.1, 0, 0.1, 0.2, 0.3, 0.4, 0.5],
                                  ticktext=["< -0.5", " ", " ", " ", " ", "0", " ", " ", " ", " ", "> 0.5"],
                                  ticks='inside', ticklen=3, tickcolor='#333', outlinewidth=1,
                                  outlinecolor='#333', tickfont=dict(size=10, color=TXT, family=FONT))),
))
fig.update_layout(lay)
fig.write_html("out.html", config={'displayModeBar': False, 'staticPlot': True},
               post_script="document.body.style.margin='0px';document.body.style.padding='0px';")
